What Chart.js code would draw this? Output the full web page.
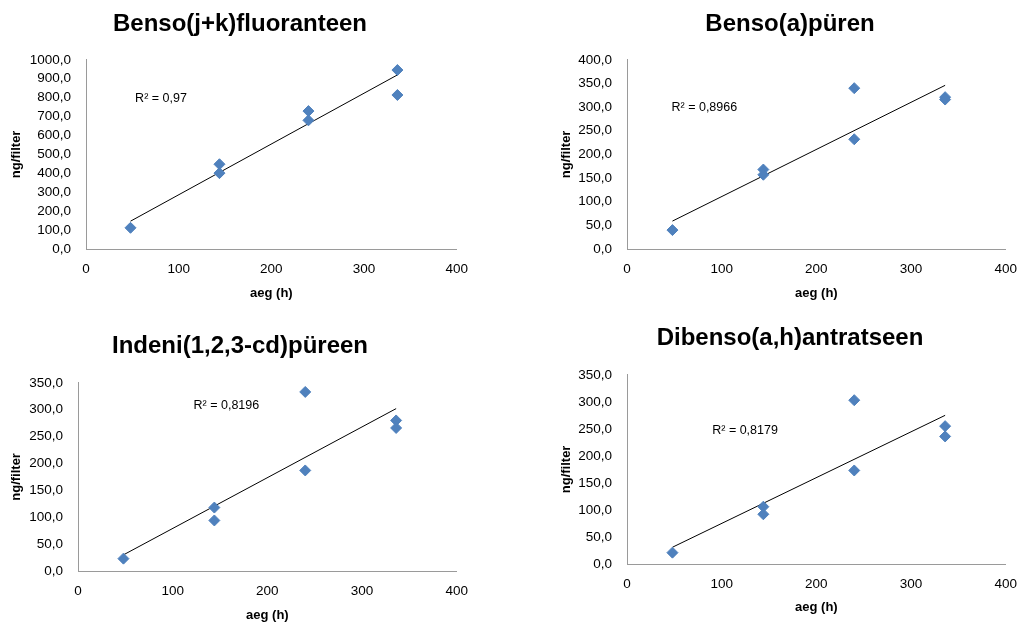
<!DOCTYPE html>
<html>
<head>
<meta charset="utf-8">
<script src="https://cdn.jsdelivr.net/npm/chart.js@4.4.1/dist/chart.umd.min.js"></script>
<style>
html, body { margin:0; padding:0; background:#fff; overflow:hidden; width:1029px; height:624px; }
.box { position:absolute; }
</style>
</head>
<body>
<div class="box" style="left:0;top:0"><canvas id="c1" width="480" height="310"></canvas></div>
<div class="box" style="left:550px;top:0"><canvas id="c2" width="479" height="310"></canvas></div>
<div class="box" style="left:0;top:320px"><canvas id="c3" width="480" height="304"></canvas></div>
<div class="box" style="left:550px;top:320px"><canvas id="c4" width="479" height="304"></canvas></div>
<script>
// sampling time (h) of each filter
var hours = [48, 144, 144, 240, 240, 336, 336];

// ng/filter
var bjkValues  = [112, 448, 401, 729, 680, 946, 814];
var bapValues  = [40, 168, 157, 340, 232, 321, 316];
var indValues  = [23, 118, 94, 333, 187, 280, 266];
var dbaValues  = [21, 106, 92, 303, 173, 255, 236];

// trend line end points (x = 48 and x = 336)
var trendX    = [48, 336];
var bjkTrend  = [147, 920];
var bapTrend  = [59, 346];
var indTrend  = [30, 302];
var dbaTrend  = [31, 275];

var titles = ["Benso(j+k)fluoranteen", "Benso(a)püren", "Indeni(1,2,3-cd)püreen", "Dibenso(a,h)antratseen"];
var r2Labels = ["R² = 0,97", "R² = 0,8966", "R² = 0,8196", "R² = 0,8179"];
var r2Pos = [[53, 793], [47, 300], [122, 308], [90, 247]];
var yMax = [1000, 400, 350, 350];
var yStep = [100, 50, 50, 50];

var BLUE = "#4f81bd";
var FONT = "'Liberation Sans', Arial, sans-serif";

function fmt(v){ return v.toFixed(1).replace(".", ","); }
function pts(xs, ys){ var a = []; for (var i=0;i<xs.length;i++){ a.push({x:xs[i], y:ys[i]}); } return a; }

var r2Plugin = {
  id: "r2",
  afterDatasetsDraw: function(chart, args, opts){
    var ctx = chart.ctx;
    var x = chart.scales.x.getPixelForValue(opts.pos[0]);
    var y = chart.scales.y.getPixelForValue(opts.pos[1]);
    ctx.save();
    ctx.font = "12.5px " + FONT;
    ctx.fillStyle = "#000";
    ctx.textBaseline = "middle";
    ctx.textAlign = "left";
    ctx.fillText(opts.text, x, y);
    ctx.restore();
  }
};

// geometry per chart:
// [padLeft, yAxisWidth, plotRight, titlePadTop, titlePadBottom, xAxisHeight, xTitlePadBottom, yTitlePad]
var geo = [
  [13, 73, 467, 10, 21, 61, 9, -4],
  [16, 61, 464, 10, 21, 61, 9, -7],
  [14, 64, 466, 12, 22, 53, 1, -5],
  [16, 61, 464, 4, 22, 60, 9, -7]
];

function makeChart(id, idx, values, trend){
  var g = geo[idx];
  var canvas = document.getElementById(id);
  new Chart(canvas, {
    type: "scatter",
    data: {
      datasets: [
        { data: pts(hours, values), pointStyle: "rectRot", pointRadius: 5.5, pointHoverRadius: 5.5,
          backgroundColor: BLUE, borderColor: BLUE, borderWidth: 1, order: 1 },
        { data: pts(trendX, trend), showLine: true, borderColor: "#000", borderWidth: 1,
          pointRadius: 0, fill: false, order: 2 }
      ]
    },
    options: {
      responsive: false,
      animation: false,
      events: [],
      layout: { padding: { left: g[0], right: canvas.width - g[2], top: 0, bottom: 0 } },
      plugins: {
        legend: { display: false },
        tooltip: { enabled: false },
        title: { display: true, text: titles[idx], color: "#000",
                 font: { family: FONT, size: 24, weight: "bold", lineHeight: 1.2 },
                 padding: { top: g[3], bottom: g[4] } },
        r2: { text: r2Labels[idx], pos: r2Pos[idx] }
      },
      scales: {
        x: {
          type: "linear", min: 0, max: 400,
          grid: { display: false, drawTicks: false },
          border: { display: true, color: "#9a9a9a", width: 1 },
          ticks: { stepSize: 100, autoSkip: false, color: "#000", padding: 12, font: { family: FONT, size: 13.5 } },
          title: { display: true, text: "aeg (h)", color: "#000",
                   font: { family: FONT, size: 13, weight: "bold", lineHeight: 1.2 },
                   padding: { top: 0, bottom: g[6] } },
          afterFit: function(s){ s.height = g[5]; }
        },
        y: {
          min: 0, max: yMax[idx],
          grid: { display: false, drawTicks: false },
          border: { display: true, color: "#9a9a9a", width: 1 },
          ticks: { stepSize: yStep[idx], autoSkip: false, color: "#000", padding: 15,
                   font: { family: FONT, size: 13.5 },
                   callback: function(v){ return fmt(v); } },
          title: { display: true, text: "ng/filter", color: "#000",
                   font: { family: FONT, size: 13, weight: "bold", lineHeight: 1.2 },
                   padding: { top: g[7], bottom: 0 } },
          afterFit: function(s){ s.width = g[1]; }
        }
      }
    },
    plugins: [r2Plugin]
  });
}

makeChart("c1", 0, bjkValues, bjkTrend);
makeChart("c2", 1, bapValues, bapTrend);
makeChart("c3", 2, indValues, indTrend);
makeChart("c4", 3, dbaValues, dbaTrend);
</script>
</body>
</html>
